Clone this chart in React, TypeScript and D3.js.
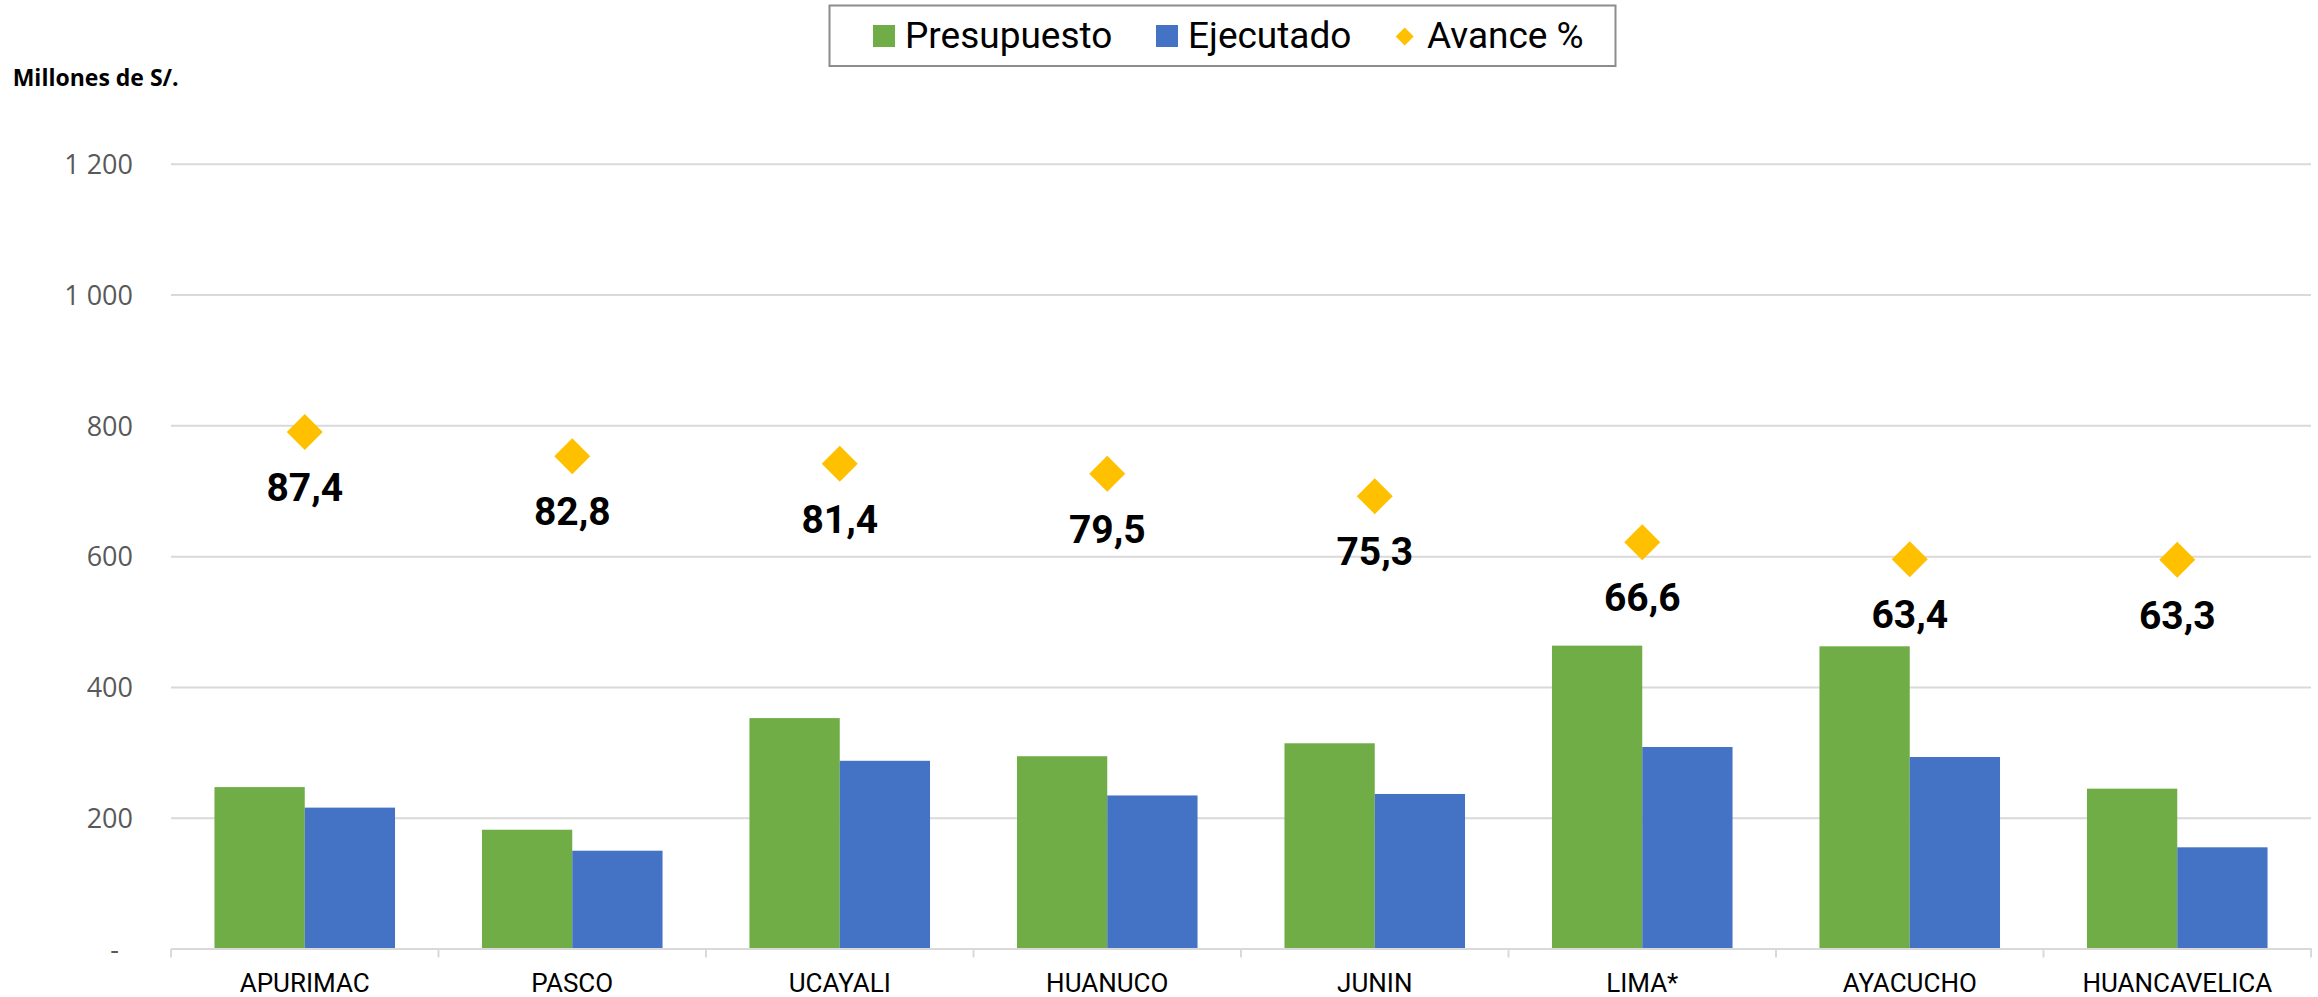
import React from "react";
import * as d3 from "d3";

const categories = ["APURIMAC", "PASCO", "UCAYALI", "HUANUCO", "JUNIN", "LIMA*", "AYACUCHO", "HUANCAVELICA"];
const presupuesto = [247.6, 182.4, 353.1, 294.8, 314.6, 463.9, 462.9, 245.2];
const ejecutado = [216.2, 150.3, 287.8, 234.8, 237.1, 308.9, 293.6, 155.5];
const avance = [87.4, 82.8, 81.4, 79.5, 75.3, 66.6, 63.4, 63.3];
const yTicks = [0, 200, 400, 600, 800, 1000, 1200];
const seriesNames = ["Presupuesto", "Ejecutado", "Avance %"];
const avanceDomain = [-10, 137.8];

const W = 2318;
const H = 997;
const left = 171;
const right = 2311;
const top = 164.3;
const bottom = 949;

const GREEN = "#70AD47";
const BLUE = "#4472C4";
const GOLD = "#FFC000";

const fmtTick = (v: number) => (v === 0 ? "-" : d3.format(",")(v).replace(/,/g, " "));
const fmtPct = (v: number) => v.toFixed(1).replace(".", ",");

export default function App() {
  const x = d3.scaleBand<string>().domain(categories).range([left, right]).paddingInner(0).paddingOuter(0);
  const bw = x.bandwidth();
  const gap = bw * 0.1625;
  const xs = d3.scaleBand<string>().domain(["p", "e"]).range([gap, bw - gap]).padding(0);
  const y = d3.scaleLinear().domain([0, 1200]).range([bottom, top]);
  const y2 = d3.scaleLinear().domain(avanceDomain).range([bottom, top]);

  const diamond = (cx: number, cy: number, r: number) =>
    `M${cx},${cy - r}L${cx + r},${cy}L${cx},${cy + r}L${cx - r},${cy}Z`;

  const boundaries = categories.map((c) => x(c) as number).concat([right]);

  return (
    <svg width={W} height={H} style={{ position: "absolute", left: 0, top: 0, background: "#fff" }}>
      <rect x={0} y={0} width={W} height={H} fill="#fff" />
      {/* gridlines */}
      {yTicks.filter((t) => t > 0).map((t) => (
        <line key={t} x1={left} x2={right} y1={y(t)} y2={y(t)} stroke="#d9d9d9" strokeWidth={2} />
      ))}
      {/* y labels */}
      {yTicks.map((t) => (
        <text
          key={"l" + t}
          x={t === 0 ? 119 : 133}
          y={y(t) + 9.7}
          textAnchor="end"
          fontFamily="'Open Sans', sans-serif"
          fontSize={27}
          fill="#595959"
        >
          {fmtTick(t)}
        </text>
      ))}
      <text x={12.7} y={85.7} fontFamily="'Open Sans', sans-serif" fontWeight={700} fontSize={23} fill="#000">
        Millones de S/.
      </text>
      {/* bars */}
      {categories.map((c, i) => (
        <g key={c}>
          <rect
            x={(x(c) as number) + (xs("p") as number)}
            y={y(presupuesto[i])}
            width={xs.bandwidth()}
            height={bottom - y(presupuesto[i])}
            fill={GREEN}
          />
          <rect
            x={(x(c) as number) + (xs("e") as number)}
            y={y(ejecutado[i])}
            width={xs.bandwidth()}
            height={bottom - y(ejecutado[i])}
            fill={BLUE}
          />
        </g>
      ))}
      {/* axis */}
      <line x1={left} x2={right + 1} y1={bottom} y2={bottom} stroke="#d9d9d9" strokeWidth={2} />
      {boundaries.map((b, i) => (
        <line key={"t" + i} x1={b} x2={b} y1={bottom} y2={bottom + 8.5} stroke="#d9d9d9" strokeWidth={2} />
      ))}
      {categories.map((c) => (
        <text
          key={"c" + c}
          x={(x(c) as number) + bw / 2}
          y={992}
          textAnchor="middle"
          fontFamily="Roboto, sans-serif"
          fontSize={26}
          fill="#000"
        >
          {c}
        </text>
      ))}
      {/* avance markers */}
      {categories.map((c, i) => {
        const cx = (x(c) as number) + bw / 2;
        const cy = y2(avance[i]);
        return (
          <g key={"a" + c}>
            <path d={diamond(cx, cy, 18)} fill={GOLD} />
            <text
              x={cx}
              y={cy + 69}
              textAnchor="middle"
              fontFamily="Roboto, sans-serif"
              fontWeight={700}
              fontSize={39}
              fill="#000"
            >
              {fmtPct(avance[i])}
            </text>
          </g>
        );
      })}
      {/* legend */}
      <rect x={829.5} y={5.5} width={786} height={60.5} fill="#fff" stroke="#8c8c8c" strokeWidth={2} />
      <rect x={873} y={25} width={22} height={22} fill={GREEN} />
      <text x={905} y={47.7} fontFamily="Roboto, sans-serif" fontSize={37} fill="#000">
        {seriesNames[0]}
      </text>
      <rect x={1156} y={25} width={22} height={22} fill={BLUE} />
      <text x={1188} y={47.7} fontFamily="Roboto, sans-serif" fontSize={37} fill="#000">
        {seriesNames[1]}
      </text>
      <path d={diamond(1404.7, 36.5, 9)} fill={GOLD} />
      <text x={1427} y={47.7} fontFamily="Roboto, sans-serif" fontSize={37} fill="#000">
        {seriesNames[2]}
      </text>
    </svg>
  );
}
